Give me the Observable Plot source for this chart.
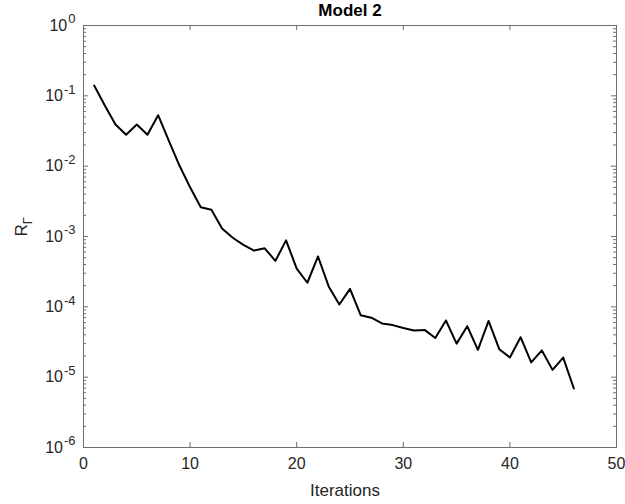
<!DOCTYPE html>
<html>
<head>
<meta charset="utf-8">
<script src="https://cdn.jsdelivr.net/npm/d3@7"></script>
<script src="https://cdn.jsdelivr.net/npm/@observablehq/plot@0.6"></script>
<style>
  html, body { margin: 0; padding: 0; background: #fff; }
  svg { font-family: "Liberation Sans", Arial, Helvetica, sans-serif; }
</style>
</head>
<body>
<div id="chart"></div>
<script>
const iterations = [1,2,3,4,5,6,7,8,9,10,11,12,13,14,15,16,17,18,19,20,21,22,23,24,25,26,27,28,29,30,31,32,33,34,35,36,37,38,39,40,41,42,43,44,45,46];
const residuals = [0.14,0.073,0.039,0.028,0.039,0.028,0.053,0.023,0.0102,0.005,
  0.0026,0.0024,0.0013,0.00096,0.00076,0.00063,0.00068,0.00045,0.00088,0.00035,
  0.00022,0.00052,0.000195,0.000108,0.00018,0.000076,0.00007,0.000058,0.000055,0.00005,
  0.000046,0.000047,0.000036,0.000064,0.00003,0.000053,0.0000245,0.000063,0.000025,0.000019,
  0.000037,0.0000162,0.000024,0.0000127,0.000019,0.0000069];
const xTicks = [0,10,20,30,40,50];
const yTicks = [1e-6,1e-5,1e-4,1e-3,1e-2,1e-1,1];
const titleText = "Model 2";
const xLabel = "Iterations";
const yLabel = "R_Γ";

const minorY = [];
for (let k = -6; k < 0; k++) for (let m = 2; m <= 9; m++) minorY.push(m * Math.pow(10, k));

const data = iterations.map((x, i) => ({x, y: residuals[i]}));

const W = 625, H = 504, mL = 83, mR = 9, mT = 25, mB = 57;
const pw = W - mL - mR, ph = H - mT - mB;
const axisColor = "#262626";
const frameColor = "#6e6e6e";
const tickFont = 16, labelFont = 17;

const plot = Plot.plot({
  width: W, height: H,
  marginLeft: mL, marginRight: mR, marginTop: mT, marginBottom: mB,
  style: {fontFamily: '"Liberation Sans", Arial, sans-serif', background: "#fff"},
  x: {domain: [0, 50]},
  y: {type: "log", domain: [1e-6, 1]},
  marks: [
    Plot.line(data, {x: "x", y: "y", stroke: "#000", strokeWidth: 2}),
    Plot.tickY(yTicks, {y: d => d, insetRight: pw - 5, stroke: frameColor}),
    Plot.tickY(yTicks, {y: d => d, insetLeft: pw - 5, stroke: frameColor}),
    Plot.tickY(minorY, {y: d => d, insetRight: pw - 3, stroke: frameColor}),
    Plot.tickY(minorY, {y: d => d, insetLeft: pw - 3, stroke: frameColor}),
    Plot.tickX(xTicks, {x: d => d, insetTop: ph - 5, stroke: frameColor}),
    Plot.tickX(xTicks, {x: d => d, insetBottom: ph - 5, stroke: frameColor}),
    Plot.frame({stroke: frameColor, strokeWidth: 1}),
    Plot.axisX({ticks: xTicks, tickSize: 0, tickPadding: 10, color: axisColor, label: null, tickFormat: d => String(d)}),
    Plot.axisY({ticks: yTicks, tickSize: 0, tickPadding: 8, color: axisColor, label: null,
      tickFormat: d => "10^" + Math.round(Math.log10(d))}),
    Plot.text([titleText], {frameAnchor: "top", lineAnchor: "middle", dy: -15, fontSize: labelFont, fontWeight: "bold", fill: "#000"}),
    Plot.text([xLabel], {frameAnchor: "bottom", lineAnchor: "middle", dy: 43, dx: -5, fontSize: labelFont, fill: axisColor}),
    Plot.text([yLabel], {frameAnchor: "left", dx: -62, rotate: -90, fontSize: labelFont, fill: axisColor})
  ]
});

document.getElementById("chart").appendChild(plot);

d3.select(plot).selectAll('g[aria-label="y-axis tick label"], g[aria-label="x-axis tick label"]')
  .style("font-size", tickFont + "px");
d3.select(plot).selectAll('g[aria-label="y-axis tick label"] text, g[aria-label="x-axis tick label"] text')
  .style("font-size", tickFont + "px");

// superscripts for y tick labels
d3.select(plot).selectAll('g[aria-label="y-axis tick label"] text').each(function() {
  const t = this.textContent;
  if (t.indexOf("^") < 0) return;
  const [base, exp] = t.split("^");
  const sel = d3.select(this);
  sel.text(base);
  sel.append("tspan").attr("dx", "1").attr("dy", "-0.55em").style("font-size", Math.round(tickFont * 0.8) + "px").text(exp);
});
// subscript for y label
d3.select(plot).selectAll('text').each(function() {
  if (this.textContent === yLabel) {
    const [base, sub] = yLabel.split("_");
    const sel = d3.select(this);
    sel.text(base);
    sel.append("tspan").attr("dy", "0.35em").style("font-size", Math.round(labelFont * 0.75) + "px").text(sub);
  }
});
</script>
</body>
</html>
